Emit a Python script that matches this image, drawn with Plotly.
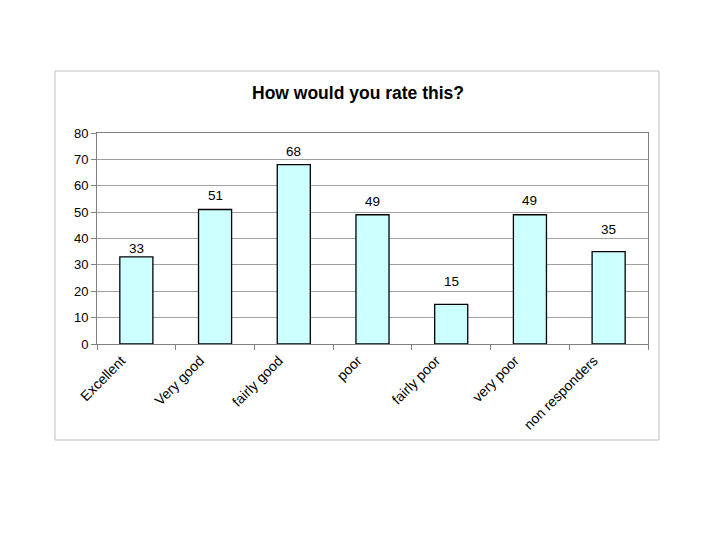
import plotly.graph_objects as go

categories = ["Excellent", "Very good", "fairly good", "poor", "fairly poor", "very poor", "non responders"]
values = [33, 51, 68, 49, 15, 49, 35]
y_ticks = [0, 10, 20, 30, 40, 50, 60, 70, 80]

# pixel gap of each value label above its bar (style, as placed in the original)
label_gaps = [-1, 4, 4, 4, 13, 5, 13]

OFF = 8  # page body margin
L, R, T, B = 97 - OFF, 648 - OFF, 133 - OFF, 344 - OFF
W, H = 712, 532
pw, ph = R - L, B - T

fig = go.Figure(go.Bar(
    x=categories, y=values,
    marker=dict(color="#CCFFFF", line=dict(color="black", width=1.3)),
    width=0.42,
    hoverinfo="x+y",
))

for c, v, g in zip(categories, values, label_gaps):
    fig.add_annotation(x=c, y=v, text=str(v), showarrow=False, yanchor="bottom",
                       yshift=g, font=dict(family="Liberation Sans, Arial", size=13.5, color="black"))

fig.update_layout(
    width=W, height=H,
    margin=dict(l=L, r=W - R, t=T, b=H - B, pad=0),
    paper_bgcolor="white", plot_bgcolor="white",
    showlegend=False,
    font=dict(family="Liberation Sans, Arial", size=13, color="black"),
)
fig.update_xaxes(
    type="category", tickangle=-45, ticks="outside", tickson="boundaries",
    ticklen=5, tickcolor="#808080", showline=True, linecolor="#808080", linewidth=1,
    mirror=True, showgrid=False, tickfont=dict(size=14),
    ticklabelshift=-15, ticklabelstandoff=2,
)
fig.update_yaxes(
    range=[0, 80], tickvals=y_ticks, ticks="outside", ticklen=5, tickcolor="#808080",
    showline=True, linecolor="#808080", linewidth=1, mirror=True,
    showgrid=True, gridcolor="#A0A0A0", gridwidth=1, zeroline=False,
    tickfont=dict(size=13),
)

fig.add_shape(type="rect", xref="paper", yref="paper",
              x0=(55 - OFF - L) / pw, x1=(659 - OFF - L) / pw,
              y0=(B - (440 - OFF)) / ph, y1=(B - (71 - OFF)) / ph,
              line=dict(color="#C0C0C0", width=1), fillcolor="rgba(0,0,0,0)", layer="below")

fig.add_annotation(text="<b>How would you rate this?</b>", xref="paper", yref="paper",
                   x=(358 - OFF - L) / pw, y=(B - (93 - OFF)) / ph, showarrow=False,
                   font=dict(size=17.5, family="Liberation Sans, Arial", color="black"),
                   xanchor="center", yanchor="middle")

fig.write_html("out.html")
